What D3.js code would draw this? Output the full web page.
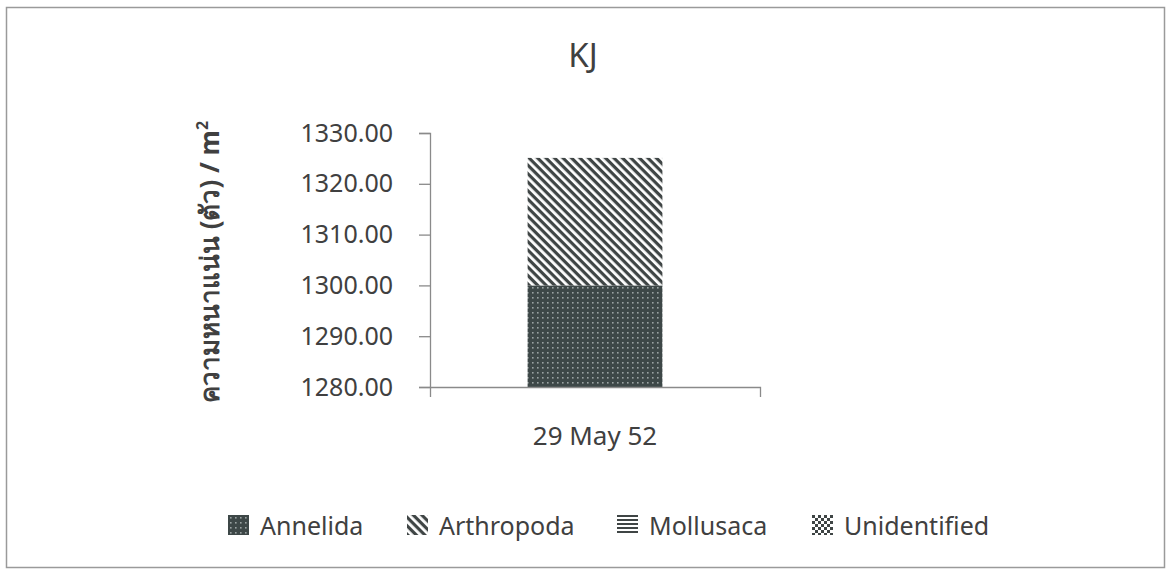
<!DOCTYPE html>
<html>
<head>
<meta charset="utf-8">
<script src="https://cdn.jsdelivr.net/npm/d3@7"></script>
<style>
  body { margin: 0; background: #fff; }
  text { font-family: "Noto Sans", "Open Sans", sans-serif; fill: #404040; }
</style>
</head>
<body>
<div id="chart"></div>
<script>
const dates = ['29 May 52'];
const taxa = ['Annelida', 'Arthropoda', 'Mollusaca', 'Unidentified'];
const annelida = [1300.0];
const arthropoda = [25.1];
const mollusaca = [0];
const unidentified = [0];
const yTicks = [1280, 1290, 1300, 1310, 1320, 1330];

const width = 1166;
const height = 570;
const plot = { left: 430, right: 760, top: 133, bottom: 387 };

const svg = d3.select('#chart')
    .append('svg')
    .attr('width', width)
    .attr('height', height);

// fill patterns, one per taxon
const defs = svg.append('defs');

const dots = defs.append('pattern')
    .attr('id', 'p-Annelida')
    .attr('patternUnits', 'userSpaceOnUse')
    .attr('width', 5).attr('height', 5);
dots.append('rect').attr('width', 5).attr('height', 5).attr('fill', '#3d4747');
dots.append('rect').attr('x', 2).attr('y', 2).attr('width', 1.6).attr('height', 1.6).attr('fill', '#9aa2a2');

const diag = defs.append('pattern')
    .attr('id', 'p-Arthropoda')
    .attr('patternUnits', 'userSpaceOnUse')
    .attr('width', 6).attr('height', 6)
    .attr('patternTransform', 'rotate(45)');
diag.append('rect').attr('width', 6).attr('height', 6).attr('fill', '#fff');
diag.append('rect').attr('width', 6).attr('height', 3.2).attr('fill', '#3f4545');

const horiz = defs.append('pattern')
    .attr('id', 'p-Mollusaca')
    .attr('patternUnits', 'userSpaceOnUse')
    .attr('width', 4).attr('height', 4);
horiz.append('rect').attr('width', 4).attr('height', 4).attr('fill', '#fff');
horiz.append('rect').attr('width', 4).attr('height', 2).attr('fill', '#3f4545');

const checks = defs.append('pattern')
    .attr('id', 'p-Unidentified')
    .attr('patternUnits', 'userSpaceOnUse')
    .attr('width', 6).attr('height', 6);
checks.append('rect').attr('width', 6).attr('height', 6).attr('fill', '#fff');
checks.append('rect').attr('width', 3).attr('height', 3).attr('fill', '#3f4545');
checks.append('rect').attr('x', 3).attr('y', 3).attr('width', 3).attr('height', 3).attr('fill', '#3f4545');

// outer frame
svg.append('rect')
    .attr('x', 6.5).attr('y', 7.5)
    .attr('width', 1158).attr('height', 560)
    .attr('fill', 'none')
    .attr('stroke', '#9a9a9a')
    .attr('stroke-width', 1.5);

const x = d3.scaleBand()
    .domain(dates)
    .range([plot.left, plot.right])
    .padding(0.42);

const y = d3.scaleLinear()
    .domain([yTicks[0], yTicks[yTicks.length - 1]])
    .range([plot.bottom, plot.top])
    .clamp(true);

const table = dates.map((d, i) => ({
    date: d,
    Annelida: annelida[i],
    Arthropoda: arthropoda[i],
    Mollusaca: mollusaca[i],
    Unidentified: unidentified[i],
}));

const series = d3.stack().keys(taxa)(table);

svg.append('g')
    .selectAll('g')
    .data(series)
    .enter()
    .append('g')
    .attr('fill', s => `url(#p-${s.key})`)
    .selectAll('rect')
    .data(s => s)
    .enter()
    .append('rect')
    .attr('x', d => x(d.data.date))
    .attr('width', x.bandwidth())
    .attr('y', d => y(d[1]))
    .attr('height', d => y(d[0]) - y(d[1]));

// y axis
const yAxis = svg.append('g')
    .attr('transform', `translate(${plot.left}, 0)`)
    .call(d3.axisLeft(y).tickValues(yTicks).tickFormat(d3.format('.2f')).tickSize(11).tickPadding(26));
yAxis.selectAll('line, path').attr('stroke', '#8a8a8a').attr('stroke-width', 1.3);
yAxis.selectAll('text').style('font-size', '25px').attr('fill', '#404040');

// x axis
const xAxis = svg.append('g')
    .attr('transform', `translate(0, ${plot.bottom})`)
    .call(d3.axisBottom(x).tickSize(0).tickPadding(40).tickSizeOuter(10));
xAxis.selectAll('path').attr('stroke', '#8a8a8a').attr('stroke-width', 1.3);
xAxis.selectAll('text').style('font-size', '26px').attr('fill', '#404040');

// title
svg.append('text')
    .attr('x', 583)
    .attr('y', 67)
    .attr('text-anchor', 'middle')
    .style('font-size', '33px')
    .text('KJ');

// y axis title
const yTitle = svg.append('text')
    .attr('transform', `translate(219, ${(plot.top + plot.bottom) / 2 + 2}) rotate(-90)`)
    .attr('text-anchor', 'middle')
    .style('font-size', '26px')
    .style('font-weight', 'bold')
    .attr('fill', '#404040');
yTitle.append('tspan').text('ความหนาแน่น (ตัว) / m');
yTitle.append('tspan').attr('dy', -11).style('font-size', '16px').text('2');

// legend
const legendX = [228, 407, 617, 812];
const legend = svg.append('g')
    .selectAll('g')
    .data(taxa)
    .enter()
    .append('g')
    .attr('transform', (d, i) => `translate(${legendX[i]}, 515)`);
legend.append('rect')
    .attr('width', 21).attr('height', 20)
    .attr('fill', d => `url(#p-${d})`);
legend.append('text')
    .attr('x', 32)
    .attr('y', 20)
    .style('font-size', '25px')
    .text(d => d);
</script>
</body>
</html>
